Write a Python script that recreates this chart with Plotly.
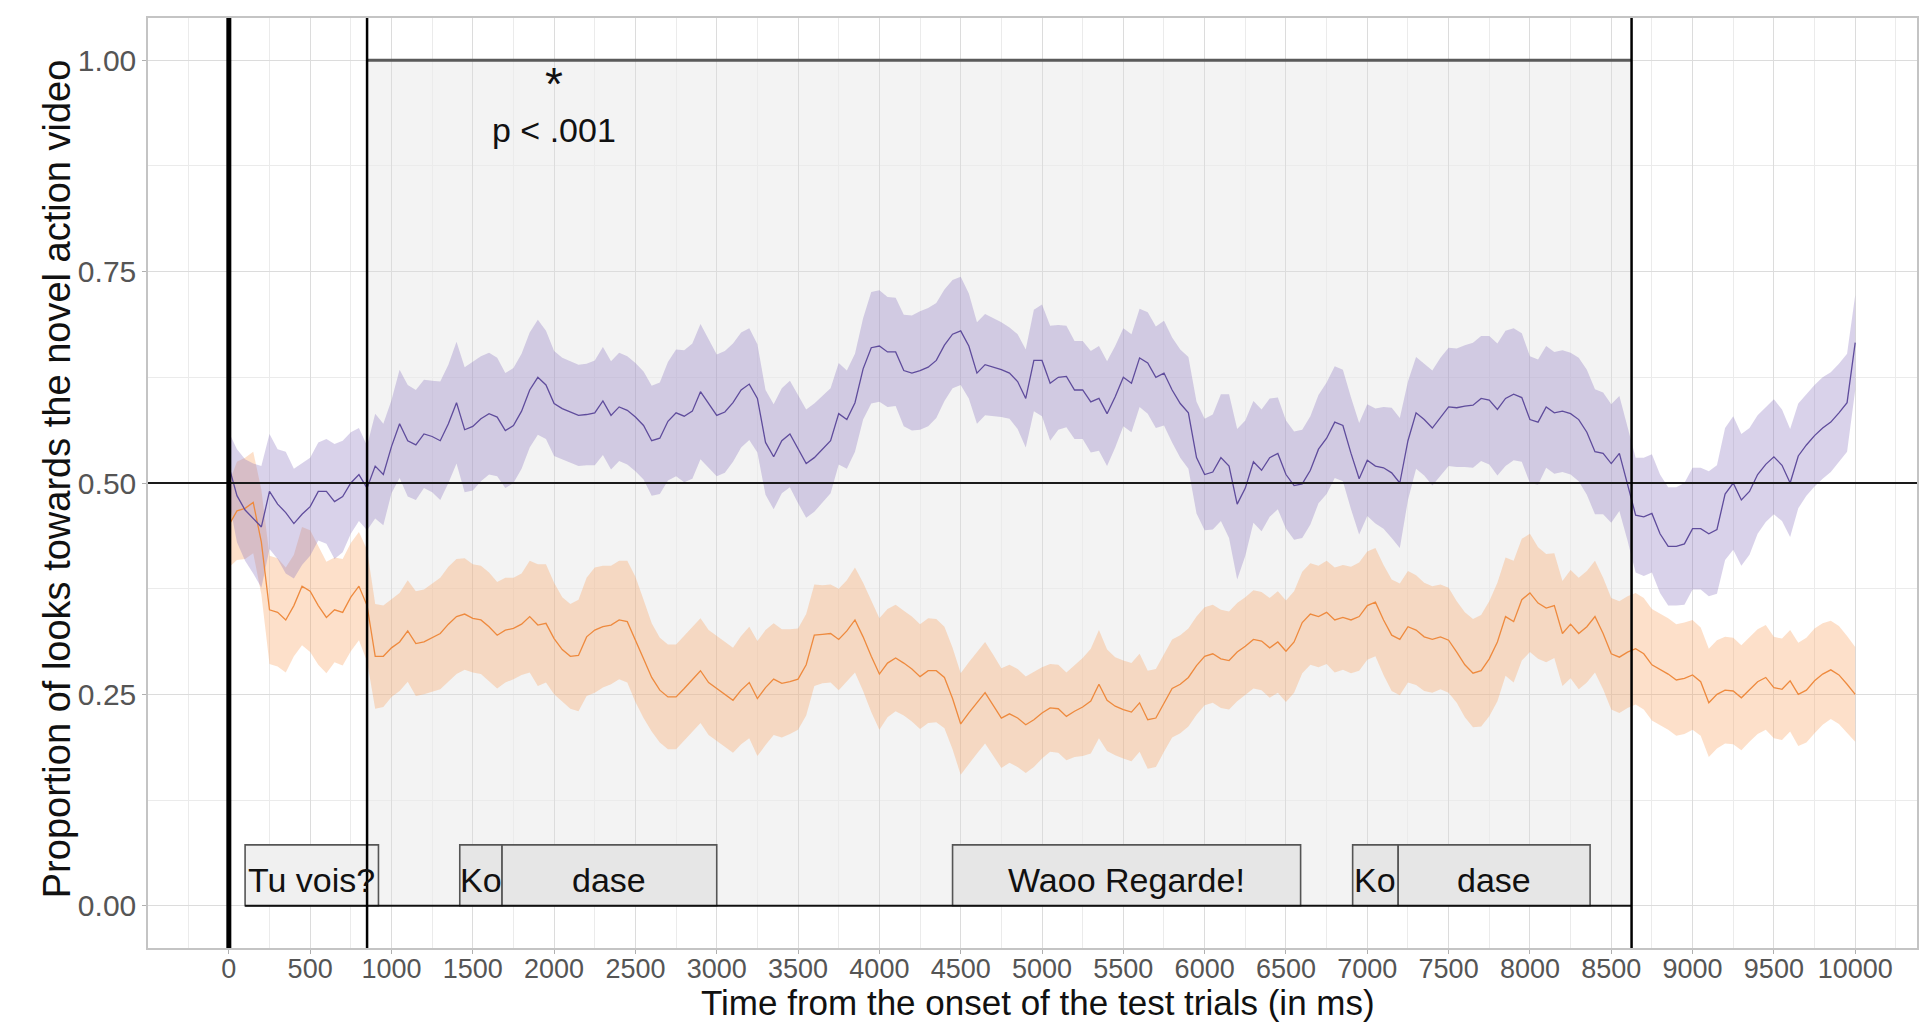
import plotly.graph_objects as go

# ---------------- data ----------------
time_ms = list(range(0, 10001, 50))

novel_mean = [
    0.52, 0.485, 0.468, 0.458, 0.448, 0.49, 0.475, 0.465, 0.452, 0.463,
    0.472, 0.49, 0.49, 0.478, 0.484, 0.5, 0.51, 0.494, 0.52, 0.51,
    0.543, 0.57, 0.55, 0.545, 0.558, 0.555, 0.55, 0.57, 0.595, 0.563,
    0.567, 0.576, 0.582, 0.578, 0.562, 0.568, 0.585, 0.61, 0.625, 0.616,
    0.594, 0.588, 0.584, 0.58, 0.581, 0.583, 0.597, 0.58, 0.59, 0.586,
    0.578, 0.568, 0.55, 0.553, 0.573, 0.583, 0.579, 0.585, 0.608, 0.594,
    0.58, 0.584, 0.595, 0.61, 0.617, 0.6, 0.548, 0.531, 0.55, 0.558,
    0.54, 0.523, 0.53, 0.54, 0.55, 0.582, 0.575, 0.595, 0.635, 0.66,
    0.662, 0.655, 0.655, 0.633, 0.63, 0.633, 0.637, 0.645, 0.663, 0.676,
    0.68, 0.662, 0.63, 0.64, 0.637, 0.634, 0.63, 0.62, 0.6, 0.645,
    0.645, 0.618, 0.625, 0.626, 0.61, 0.61, 0.596, 0.6, 0.582, 0.602,
    0.625, 0.618, 0.648, 0.642, 0.625, 0.63, 0.61, 0.594, 0.583, 0.53,
    0.51, 0.513, 0.53, 0.52, 0.475, 0.494, 0.525, 0.515, 0.53, 0.535,
    0.51, 0.497, 0.499, 0.515, 0.54, 0.553, 0.572, 0.568, 0.535, 0.505,
    0.527, 0.52, 0.518, 0.512, 0.5, 0.55, 0.583, 0.575, 0.565, 0.578,
    0.59, 0.589, 0.591, 0.592, 0.6, 0.598, 0.587, 0.6, 0.605, 0.601,
    0.575, 0.572, 0.59, 0.583, 0.585, 0.582, 0.575, 0.56, 0.537, 0.535,
    0.523, 0.535, 0.5, 0.462, 0.46, 0.464, 0.44, 0.425, 0.425, 0.428,
    0.446, 0.446, 0.44, 0.445, 0.487, 0.5, 0.48, 0.49, 0.51, 0.522,
    0.531, 0.521, 0.5, 0.532, 0.545, 0.556, 0.565, 0.572, 0.583, 0.595,
    0.666,
]
novel_se = [
    0.04, 0.055, 0.06, 0.065, 0.072, 0.068, 0.065, 0.072, 0.065, 0.06,
    0.058, 0.058, 0.062, 0.068, 0.066, 0.06, 0.055, 0.05, 0.062, 0.06,
    0.055, 0.064, 0.066, 0.065, 0.064, 0.066, 0.07, 0.07, 0.072, 0.074,
    0.076, 0.074, 0.072, 0.07, 0.068, 0.068, 0.068, 0.068, 0.068, 0.064,
    0.062, 0.06, 0.06, 0.06, 0.06, 0.062, 0.064, 0.064, 0.064, 0.064,
    0.064, 0.064, 0.065, 0.066, 0.07, 0.075, 0.078, 0.08, 0.08, 0.076,
    0.072, 0.072, 0.07, 0.068, 0.066, 0.064, 0.062, 0.062, 0.062, 0.063,
    0.064, 0.064, 0.064, 0.063, 0.062, 0.06, 0.058, 0.058, 0.06, 0.066,
    0.066, 0.065, 0.064, 0.066, 0.068, 0.07, 0.07, 0.068, 0.066, 0.064,
    0.064, 0.062, 0.06, 0.06, 0.058, 0.056, 0.054, 0.056, 0.058, 0.06,
    0.066, 0.068, 0.062, 0.06, 0.058, 0.058, 0.06, 0.062, 0.062, 0.06,
    0.058, 0.058, 0.058, 0.06, 0.06, 0.062, 0.062, 0.064, 0.066, 0.066,
    0.066, 0.068, 0.075, 0.085, 0.089, 0.08, 0.072, 0.072, 0.07, 0.066,
    0.064, 0.064, 0.064, 0.064, 0.064, 0.066, 0.066, 0.066, 0.066, 0.066,
    0.066, 0.068, 0.072, 0.077, 0.077, 0.07, 0.066, 0.066, 0.068, 0.07,
    0.07, 0.07, 0.072, 0.074, 0.074, 0.076, 0.078, 0.08, 0.078, 0.076,
    0.075, 0.074, 0.072, 0.072, 0.072, 0.072, 0.073, 0.074, 0.074, 0.072,
    0.07, 0.068, 0.068, 0.068, 0.07, 0.07, 0.07, 0.07, 0.07, 0.072,
    0.072, 0.072, 0.074, 0.076, 0.078, 0.079, 0.078, 0.075, 0.07, 0.068,
    0.068, 0.066, 0.064, 0.062, 0.06, 0.06, 0.06, 0.059, 0.058, 0.058,
    0.056,
]
other_mean = [
    0.45, 0.467, 0.47, 0.477, 0.43, 0.35, 0.347, 0.338, 0.355, 0.378,
    0.372, 0.355, 0.341, 0.35, 0.347, 0.365, 0.378, 0.355, 0.295, 0.295,
    0.305, 0.312, 0.325, 0.31, 0.312, 0.317, 0.322, 0.333, 0.342, 0.345,
    0.34, 0.338, 0.33, 0.32, 0.326, 0.328, 0.333, 0.342, 0.332, 0.334,
    0.316, 0.303, 0.295, 0.296, 0.318, 0.326, 0.33, 0.332, 0.338, 0.336,
    0.315, 0.292, 0.27, 0.255, 0.247, 0.247, 0.257, 0.268, 0.278, 0.264,
    0.257, 0.25, 0.243, 0.255, 0.264, 0.245, 0.258, 0.268, 0.263, 0.265,
    0.268, 0.285, 0.32, 0.321, 0.322, 0.315, 0.325, 0.338, 0.318, 0.295,
    0.274, 0.287, 0.293, 0.287, 0.28, 0.271, 0.278, 0.278, 0.27, 0.245,
    0.215, 0.228, 0.24, 0.252, 0.237, 0.222, 0.227, 0.222, 0.214, 0.22,
    0.228, 0.234, 0.233, 0.224, 0.23, 0.235, 0.242, 0.262, 0.243, 0.236,
    0.232, 0.229, 0.24, 0.22, 0.222, 0.24, 0.257, 0.262, 0.27, 0.284,
    0.295, 0.298, 0.292, 0.29, 0.3, 0.307, 0.315, 0.313, 0.305, 0.312,
    0.301, 0.312, 0.335, 0.345, 0.342, 0.347, 0.338, 0.341, 0.338, 0.342,
    0.355, 0.359, 0.338, 0.32, 0.315, 0.33, 0.326, 0.318, 0.315, 0.318,
    0.314, 0.3, 0.285, 0.275, 0.278, 0.292, 0.312, 0.342, 0.336, 0.362,
    0.37, 0.358, 0.352, 0.355, 0.322, 0.333, 0.322, 0.33, 0.342, 0.322,
    0.298, 0.294, 0.3, 0.304, 0.298, 0.285, 0.28, 0.274, 0.267, 0.269,
    0.273, 0.265, 0.24, 0.25, 0.255, 0.254, 0.246, 0.256, 0.265, 0.27,
    0.258, 0.256, 0.266, 0.25, 0.255, 0.266, 0.274, 0.279, 0.273, 0.262,
    0.25,
]
other_se = [
    0.05, 0.058, 0.06, 0.06, 0.062, 0.064, 0.064, 0.062, 0.06, 0.07,
    0.072, 0.07, 0.066, 0.062, 0.063, 0.064, 0.064, 0.066, 0.062, 0.06,
    0.058, 0.058, 0.06, 0.062, 0.062, 0.064, 0.066, 0.068, 0.068, 0.066,
    0.064, 0.064, 0.064, 0.063, 0.062, 0.06, 0.06, 0.066, 0.072, 0.07,
    0.066, 0.062, 0.062, 0.066, 0.07, 0.074, 0.072, 0.07, 0.07, 0.072,
    0.074, 0.07, 0.064, 0.062, 0.062, 0.062, 0.062, 0.062, 0.062, 0.062,
    0.062, 0.062, 0.062, 0.064, 0.066, 0.068, 0.068, 0.066, 0.064, 0.062,
    0.06, 0.06, 0.06, 0.058, 0.058, 0.06, 0.06, 0.062, 0.064, 0.066,
    0.066, 0.064, 0.063, 0.062, 0.062, 0.062, 0.062, 0.061, 0.06, 0.06,
    0.06, 0.06, 0.06, 0.06, 0.06, 0.059, 0.058, 0.058, 0.057, 0.056,
    0.054, 0.052, 0.052, 0.052, 0.054, 0.058, 0.062, 0.064, 0.06, 0.058,
    0.058, 0.058, 0.058, 0.058, 0.058, 0.058, 0.058, 0.058, 0.058, 0.058,
    0.058, 0.058, 0.058, 0.058, 0.058, 0.058, 0.058, 0.058, 0.059, 0.06,
    0.06, 0.06, 0.06, 0.06, 0.06, 0.061, 0.062, 0.062, 0.063, 0.064,
    0.064, 0.064, 0.065, 0.066, 0.066, 0.066, 0.065, 0.064, 0.063, 0.062,
    0.062, 0.06, 0.062, 0.064, 0.066, 0.068, 0.07, 0.07, 0.072, 0.072,
    0.07, 0.066, 0.064, 0.062, 0.062, 0.064, 0.066, 0.066, 0.066, 0.066,
    0.066, 0.066, 0.066, 0.066, 0.066, 0.066, 0.066, 0.066, 0.066, 0.066,
    0.065, 0.064, 0.064, 0.064, 0.063, 0.063, 0.062, 0.062, 0.062, 0.062,
    0.06, 0.06, 0.06, 0.061, 0.062, 0.062, 0.06, 0.058, 0.058, 0.057,
    0.056,
]

# audio segments: label, start (ms), end (ms)
seg_labels = ["Tu vois?", "Ko", "dase", "Waoo Regarde!", "Ko", "dase"]
seg_start = [100, 1420, 1680, 4450, 6910, 7190]
seg_end = [920, 1680, 3000, 6590, 7190, 8370]
seg_fill = ["#f0f0f0", "#e6e6e6", "#e6e6e6", "#e6e6e6", "#e6e6e6", "#e6e6e6"]

window_start = 850
window_end = 8625
x_ticks = list(range(0, 10001, 500))

FONT = "Liberation Sans, Arial, Helvetica, sans-serif"

assert len(novel_mean) == len(time_ms) == len(novel_se) == len(other_mean) == len(other_se)

fig = go.Figure()


def ribbon(mean, se, fillcolor):
    upper = [m + s for m, s in zip(mean, se)]
    lower = [m - s for m, s in zip(mean, se)]
    fig.add_trace(go.Scatter(
        x=time_ms + time_ms[::-1], y=upper + lower[::-1],
        fill="toself", fillcolor=fillcolor, line=dict(width=0),
        mode="lines", hoverinfo="skip", showlegend=False))


ribbon(other_mean, other_se, "rgba(248,160,95,0.33)")
ribbon(novel_mean, novel_se, "rgba(140,118,190,0.33)")

fig.add_trace(go.Scatter(x=time_ms, y=other_mean, mode="lines",
                         line=dict(color="#ee8a3e", width=1.3), showlegend=False))
fig.add_trace(go.Scatter(x=time_ms, y=novel_mean, mode="lines",
                         line=dict(color="#5f4c9c", width=1.3), showlegend=False))

shapes = []
# significance window shading
shapes.append(dict(type="rect", xref="x", yref="y", x0=window_start, x1=window_end,
                   y0=0, y1=1, fillcolor="#f3f3f3", line=dict(width=0), layer="below"))
# audio boxes
for lab, s, e, fc in zip(seg_labels, seg_start, seg_end, seg_fill):
    shapes.append(dict(type="rect", xref="x", yref="y", x0=s, x1=e, y0=0, y1=0.072,
                       fillcolor=fc, line=dict(color="#555555", width=1.6), layer="above"))
# reference lines
shapes.append(dict(type="line", xref="paper", yref="y", x0=0, x1=1, y0=0.5, y1=0.5,
                   line=dict(color="#1a1a1a", width=1.8), layer="above"))
shapes.append(dict(type="line", xref="x", yref="y", x0=window_start, x1=window_end, y0=1, y1=1,
                   line=dict(color="#5a5a5a", width=3), layer="above"))
shapes.append(dict(type="line", xref="x", yref="y", x0=seg_start[0], x1=window_end, y0=0, y1=0,
                   line=dict(color="#111111", width=2), layer="above"))
shapes.append(dict(type="line", xref="x", yref="paper", x0=0, x1=0, y0=0, y1=1,
                   line=dict(color="black", width=5), layer="above"))
for xv in (window_start, window_end):
    shapes.append(dict(type="line", xref="x", yref="paper", x0=xv, x1=xv, y0=0, y1=1,
                       line=dict(color="black", width=2.5), layer="above"))

annotations = []
for lab, s, e in zip(seg_labels, seg_start, seg_end):
    annotations.append(dict(x=(s + e) / 2, y=0.031, xref="x", yref="y", text=lab,
                            showarrow=False, xanchor="center", yanchor="middle",
                            font=dict(family=FONT, size=34, color="#111111")))
annotations.append(dict(x=2000, y=0.972, xref="x", yref="y", text="*", showarrow=False,
                        xanchor="center", yanchor="middle",
                        font=dict(family=FONT, size=46, color="#111111")))
annotations.append(dict(x=2000, y=0.918, xref="x", yref="y", text="p < .001", showarrow=False,
                        xanchor="center", yanchor="middle",
                        font=dict(family=FONT, size=34, color="#111111")))
annotations.append(dict(x=0.503, y=-0.0817, xref="paper", yref="paper",
                        text="Time from the onset of the test trials (in ms)", showarrow=False,
                        xanchor="center", yanchor="bottom",
                        font=dict(family=FONT, size=35, color="#111111")))
annotations.append(dict(x=-0.0515, y=0.505, xref="paper", yref="paper",
                        text="Proportion of looks towards the novel action video", showarrow=False,
                        xanchor="center", yanchor="middle", textangle=-90,
                        font=dict(family=FONT, size=38, color="#111111")))

fig.update_layout(
    width=1919, height=1024,
    margin=dict(l=148, r=0, t=18, b=76),
    plot_bgcolor="white", paper_bgcolor="white",
    showlegend=False,
    shapes=shapes, annotations=annotations,
    xaxis=dict(range=[-497, 10380], tickmode="array", tickvals=x_ticks,
               ticktext=[str(v) for v in x_ticks],
               showgrid=True, gridcolor="#dcdcdc", gridwidth=1,
               minor=dict(tickmode="linear", tick0=0, dtick=250, showgrid=True,
                          gridcolor="#ebebeb", gridwidth=1),
               ticks="outside", ticklen=4, tickcolor="#b0b0b0",
               ticklabelstandoff=-8,
               tickfont=dict(family=FONT, size=27, color="#555555"),
               showline=True, linecolor="#c4c4c4", linewidth=1.5, mirror=True,
               zeroline=False),
    yaxis=dict(range=[-0.05, 1.05], tickmode="linear", tick0=0, dtick=0.25,
               tickformat=".2f",
               showgrid=True, gridcolor="#dcdcdc", gridwidth=1,
               minor=dict(tickmode="linear", tick0=0, dtick=0.125, showgrid=True,
                          gridcolor="#ebebeb", gridwidth=1),
               ticks="outside", ticklen=4, tickcolor="#b0b0b0",
               tickfont=dict(family=FONT, size=30, color="#555555"),
               showline=True, linecolor="#c4c4c4", linewidth=1.5, mirror=True,
               zeroline=False),
)

fig.write_html("out.html", config={"displayModeBar": False},
               post_script="document.body.style.margin='0px';document.body.style.overflow='hidden';")
